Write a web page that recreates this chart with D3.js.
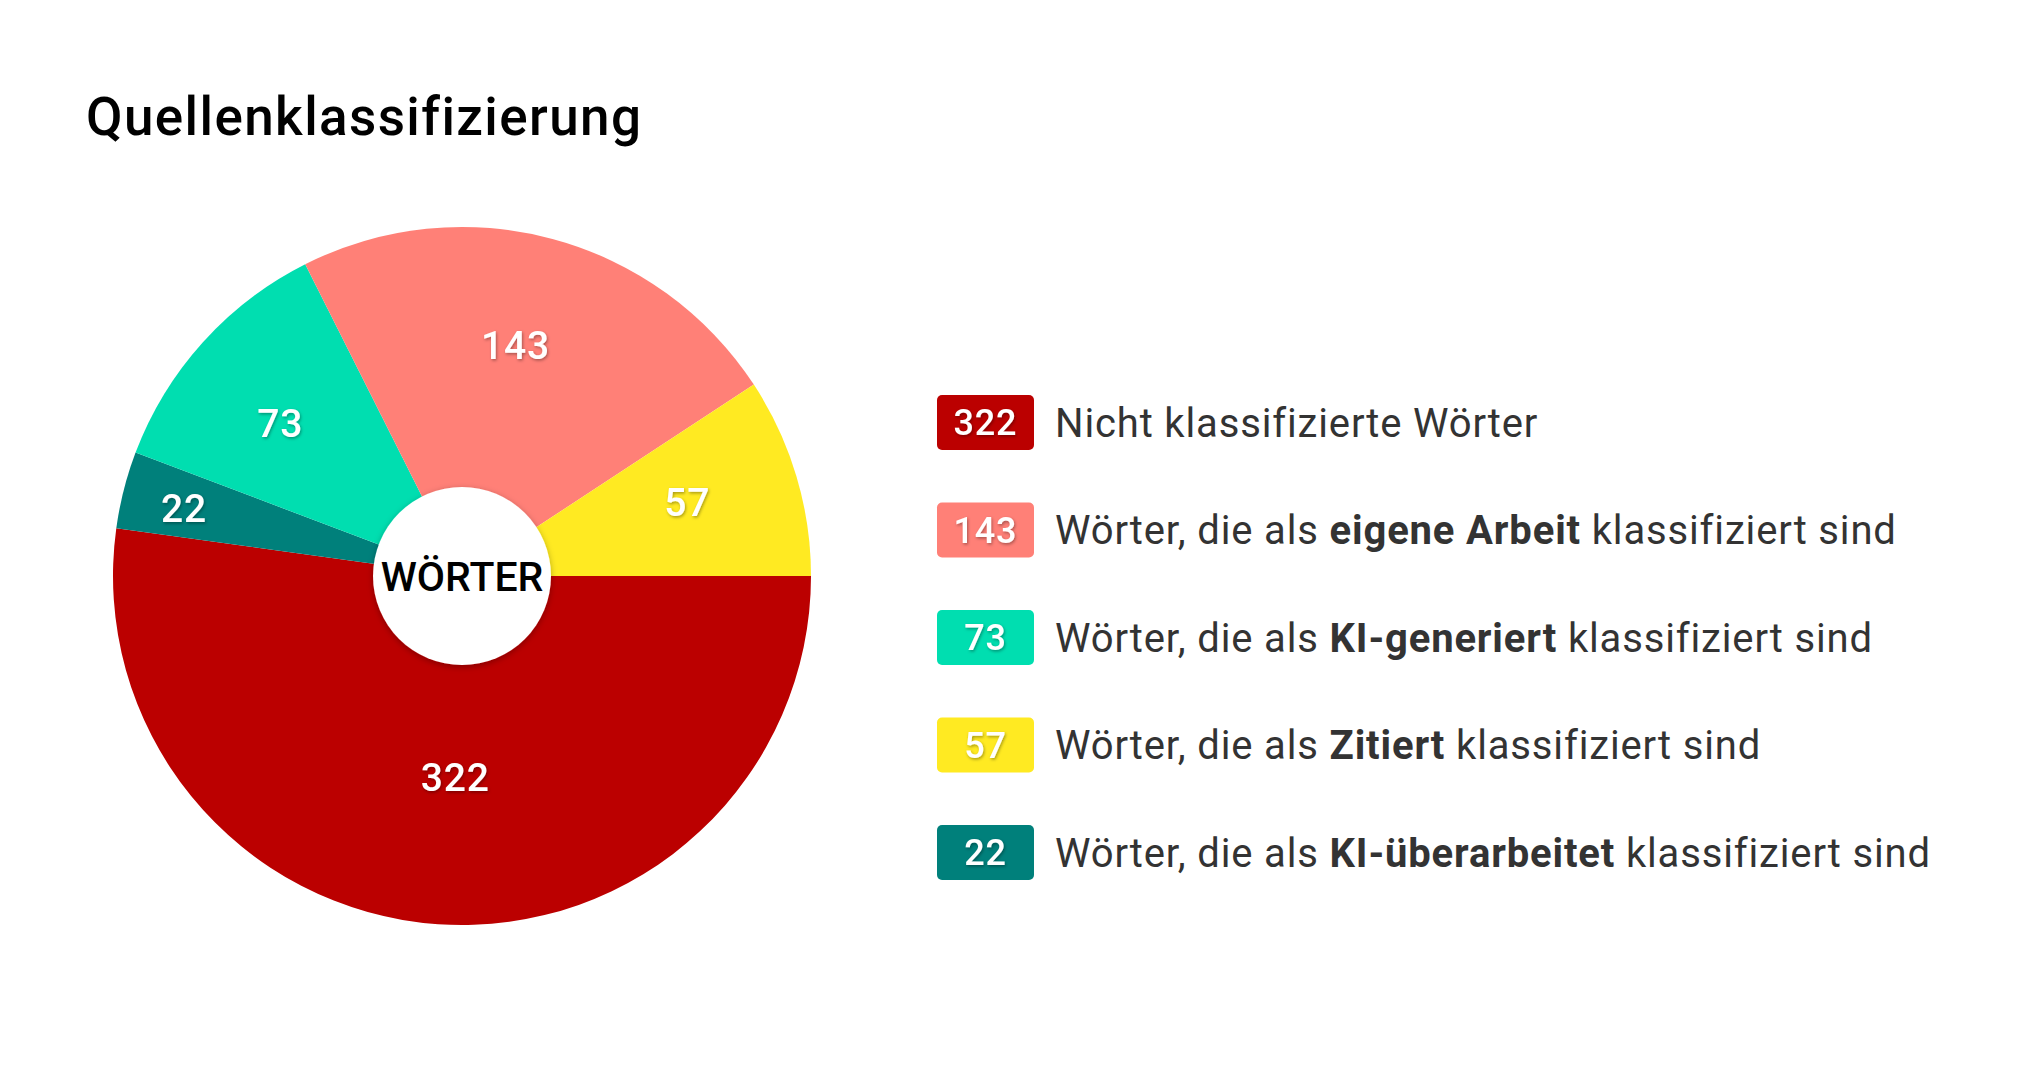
<!DOCTYPE html>
<html>
<head>
<meta charset="utf-8">
<script src="https://cdn.jsdelivr.net/npm/d3@7"></script>
<style>
  html, body { margin: 0; padding: 0; background: #fff; }
  svg { display: block; font-family: Roboto, "Noto Sans", sans-serif; }
</style>
</head>
<body>
<div id="chart"></div>
<script>
// Legend order (top to bottom)
var keys = ["unclassified", "own", "aiGenerated", "quoted", "aiRevised"];
var values = [322, 143, 73, 57, 22];
var boldTerms = [null, "eigene Arbeit", "KI-generiert", "Zitiert", "KI-überarbeitet"];
var colors = ["#bb0000", "#ff8077", "#00deb0", "#ffea22", "#00807b"];

// Slice order, clockwise from 3 o'clock
var pieOrder = ["unclassified", "aiRevised", "aiGenerated", "own", "quoted"];

var title = "Quellenklassifizierung";
var centerLabel = "WÖRTER";

var W = 2041, H = 1080;
var CX = 462, CY = 576, R = 349, HOLE = 89;

var items = keys.map(function(k, i) {
    return { key: k, value: values[i], bold: boldTerms[i], color: colors[i] };
});
var byKey = {};
items.forEach(function(d) { byKey[d.key] = d; });

var svg = d3.select("#chart").append("svg")
    .attr("width", W)
    .attr("height", H);

svg.append("rect").attr("width", W).attr("height", H).attr("fill", "#fff");

var defs = svg.append("defs");
defs.append("filter").attr("id", "txtShadow")
    .attr("x", "-20%").attr("y", "-20%").attr("width", "140%").attr("height", "140%")
    .append("feDropShadow")
    .attr("dx", 1).attr("dy", 1.5).attr("stdDeviation", 1.5)
    .attr("flood-color", "#000").attr("flood-opacity", 0.35);
defs.append("filter").attr("id", "holeShadow")
    .attr("x", "-20%").attr("y", "-20%").attr("width", "140%").attr("height", "140%")
    .append("feDropShadow")
    .attr("dx", 0).attr("dy", 2).attr("stdDeviation", 3)
    .attr("flood-color", "#000").attr("flood-opacity", 0.3);

// Title
svg.append("text")
    .attr("x", 86)
    .attr("y", 135)
    .attr("font-size", 53)
    .attr("font-weight", 500)
    .attr("letter-spacing", 1.4)
    .attr("fill", "#000")
    .text(title);

// Pie
var pie = d3.pie()
    .sort(null)
    .value(function(d) { return d.value; })
    .startAngle(Math.PI / 2)
    .endAngle(Math.PI / 2 + 2 * Math.PI);

var arcs = pie(pieOrder.map(function(k) { return byKey[k]; }));
var total = d3.sum(values);

var arc = d3.arc().innerRadius(0).outerRadius(R);

var g = svg.append("g").attr("transform", "translate(" + CX + "," + CY + ")");

g.selectAll("path.slice")
    .data(arcs)
    .enter().append("path")
    .attr("class", "slice")
    .attr("d", arc)
    .attr("fill", function(d) { return d.data.color; });

// Labels sit further out on narrow slices, closer in on the big one
function labelRadius(d) {
    var frac = d.data.value / total;
    if (frac > 0.4) return R * 0.575;
    if (frac < 0.05) return R * 0.82;
    return R * 0.68;
}

// small counter-clockwise nudge, like the original renderer
function labelAngle(d) {
    var span = d.endAngle - d.startAngle;
    return (d.startAngle + d.endAngle) / 2 - Math.min(0.035, span * 0.05);
}

g.selectAll("text.val")
    .data(arcs)
    .enter().append("text")
    .attr("class", "val")
    .attr("transform", function(d) {
        var r = labelRadius(d);
        var a = labelAngle(d);
        return "translate(" + (r * Math.sin(a)) + "," + (-r * Math.cos(a)) + ")";
    })
    .attr("text-anchor", "middle")
    .attr("dy", "0.36em")
    .attr("font-size", 39)
    .attr("font-weight", 500)
    .attr("letter-spacing", 0.8)
    .attr("fill", "#fff")
    .attr("filter", "url(#txtShadow)")
    .text(function(d) { return d.data.value; });

// Centre disc
g.append("circle")
    .attr("r", HOLE)
    .attr("fill", "#fff")
    .attr("filter", "url(#holeShadow)");

g.append("text")
    .attr("text-anchor", "middle")
    .attr("dy", "0.36em")
    .attr("font-size", 41)
    .attr("font-weight", 500)
    .attr("fill", "#000")
    .text(centerLabel);

// Legend
var rowY = d3.scalePoint().domain(keys).range([422.5, 852.5]);
var SW = 97, SH = 55, SX = 937;

var rows = svg.selectAll("g.legend")
    .data(items)
    .enter().append("g")
    .attr("class", "legend")
    .attr("transform", function(d) { return "translate(0," + rowY(d.key) + ")"; });

rows.append("rect")
    .attr("x", SX)
    .attr("y", -SH / 2)
    .attr("width", SW)
    .attr("height", SH)
    .attr("rx", 5)
    .attr("fill", function(d) { return d.color; });

rows.append("text")
    .attr("x", SX + SW / 2)
    .attr("dy", "0.36em")
    .attr("text-anchor", "middle")
    .attr("font-size", 36)
    .attr("font-weight", 500)
    .attr("letter-spacing", 0.8)
    .attr("fill", "#fff")
    .attr("filter", "url(#txtShadow)")
    .text(function(d) { return d.value; });

var label = rows.append("text")
    .attr("x", 1055)
    .attr("dy", "0.36em")
    .attr("font-size", 40)
    .attr("letter-spacing", 0.85)
    .attr("fill", "#333");

label.each(function(d) {
    var t = d3.select(this);
    if (!d.bold) {
        t.append("tspan").text("Nicht klassifizierte Wörter");
        return;
    }
    t.append("tspan").text("Wörter, die als ");
    t.append("tspan").attr("font-weight", 700).text(d.bold);
    t.append("tspan").text(" klassifiziert sind");
});
</script>
</body>
</html>
